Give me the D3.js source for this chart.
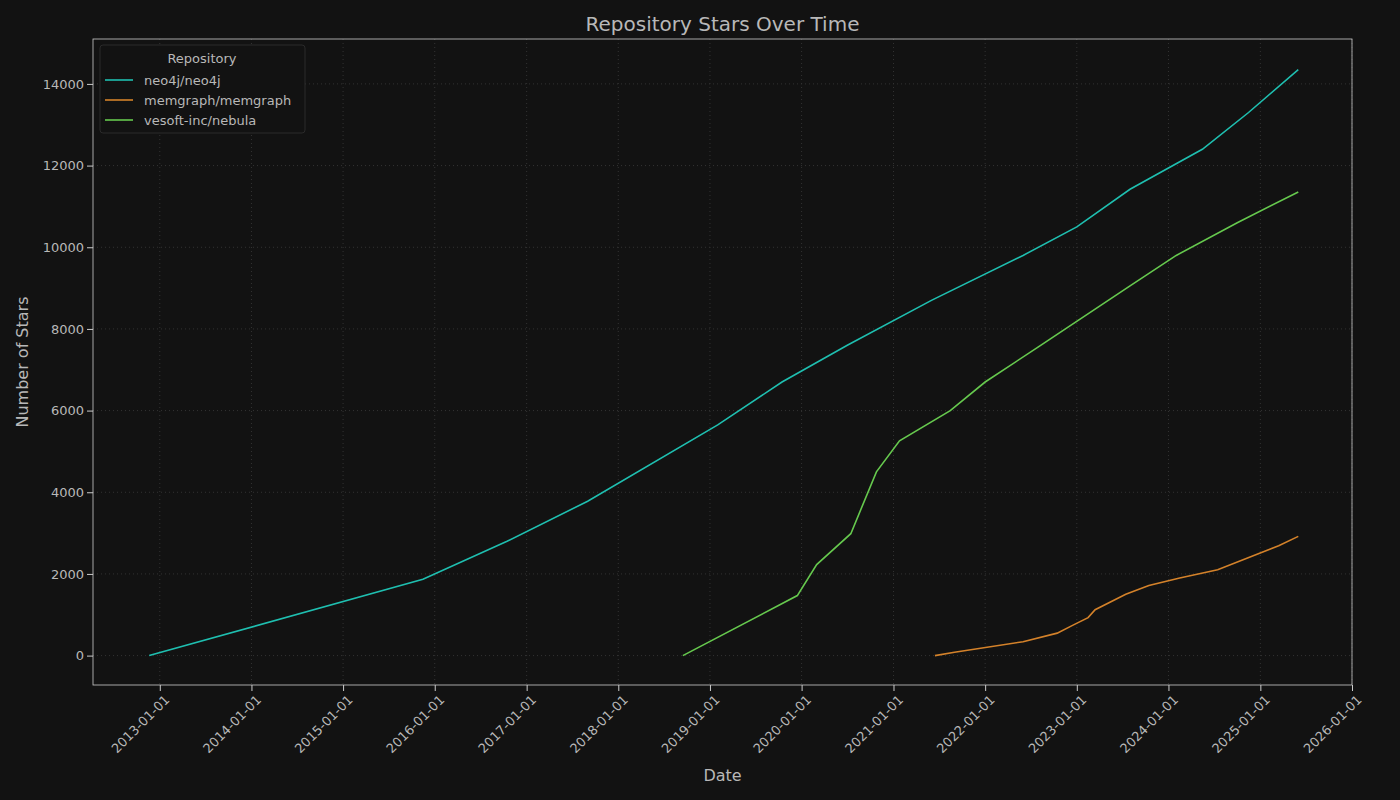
<!DOCTYPE html>
<html>
<head>
<meta charset="utf-8">
<script src="https://cdn.jsdelivr.net/npm/d3@7"></script>
<style>
  body { margin: 0; background: #121212; }
  text { font-family: "DejaVu Sans", sans-serif; }
</style>
</head>
<body>
<div id="chart"></div>
<script>
const neo4jDates = ['2012-11-20','2015-11-15','2016-10-15','2017-09-01','2019-02-01','2019-10-15','2020-07-01','2021-06-01','2022-06-01','2023-01-01','2023-08-01','2024-05-15','2024-11-15','2025-06-01'];
const neo4jStars = [0,1870,2800,3780,5650,6700,7600,8700,9800,10500,11420,12400,13300,14350];

const memgraphDates = ['2021-06-15','2021-09-01','2022-06-01','2022-10-15','2022-12-15','2023-02-15','2023-03-15','2023-07-15','2023-10-15','2024-02-15','2024-07-15','2025-03-15','2025-06-01'];
const memgraphStars = [0,80,340,550,740,930,1125,1500,1715,1900,2100,2690,2920];

const nebulaDates = ['2018-09-15','2019-12-15','2020-03-01','2020-07-15','2020-10-25','2021-01-25','2021-08-15','2022-01-01','2022-08-01','2023-08-01','2024-02-01','2024-10-01','2025-06-01'];
const nebulaStars = [0,1470,2230,2985,4500,5260,6000,6700,7560,9055,9800,10600,11355];

const repos = ['neo4j/neo4j', 'memgraph/memgraph', 'vesoft-inc/nebula'];
const colors = ['#1fbfb0', '#d4822a', '#66c94e'];
const yTicks = [0, 2000, 4000, 6000, 8000, 10000, 12000, 14000];

const parse = d3.timeParse('%Y-%m-%d');
const series = [
  neo4jDates.map((d, i) => ({ date: parse(d), stars: neo4jStars[i] })),
  memgraphDates.map((d, i) => ({ date: parse(d), stars: memgraphStars[i] })),
  nebulaDates.map((d, i) => ({ date: parse(d), stars: nebulaStars[i] }))
];

const width = 1400, height = 800;
const margin = { top: 39, right: 48, bottom: 115, left: 93 };
const textColor = '#b8b8b8';

const svg = d3.select('#chart').append('svg')
  .attr('width', width).attr('height', height)
  .style('background', '#121212');

const x = d3.scaleTime()
  .domain([parse('2012-04-10'), parse('2026-01-01')])
  .range([margin.left, width - margin.right]);
const y = d3.scaleLinear()
  .domain([-720, 15100])
  .range([height - margin.bottom, margin.top]);

const xTicks = d3.range(2013, 2027).map(yr => new Date(yr, 0, 1));

// grid
svg.append('g').selectAll('line').data(xTicks).enter().append('line')
  .attr('x1', d => x(d)).attr('x2', d => x(d))
  .attr('y1', margin.top).attr('y2', height - margin.bottom)
  .attr('stroke', '#333').attr('stroke-dasharray', '1,3');
svg.append('g').selectAll('line').data(yTicks).enter().append('line')
  .attr('x1', margin.left).attr('x2', width - margin.right)
  .attr('y1', d => y(d)).attr('y2', d => y(d))
  .attr('stroke', '#333').attr('stroke-dasharray', '1,3');

// frame
svg.append('rect')
  .attr('x', margin.left).attr('y', margin.top)
  .attr('width', width - margin.left - margin.right)
  .attr('height', height - margin.top - margin.bottom)
  .attr('fill', 'none').attr('stroke', '#ccc').attr('stroke-width', 0.8);

// axes
const xAxis = svg.append('g')
  .attr('transform', `translate(0,${height - margin.bottom})`)
  .call(d3.axisBottom(x).tickValues(xTicks).tickFormat(d3.timeFormat('%Y-%m-%d')).tickSizeOuter(0));
xAxis.selectAll('text')
  .attr('text-anchor', 'end')
  .attr('transform', 'rotate(-45)')
  .attr('dx', '-0.3em').attr('dy', '0.7em');

const yAxis = svg.append('g')
  .attr('transform', `translate(${margin.left},0)`)
  .call(d3.axisLeft(y).tickValues(yTicks).tickFormat(d3.format('d')).tickSizeOuter(0));

[xAxis, yAxis].forEach(a => {
  a.select('.domain').remove();
  a.selectAll('line').attr('stroke', '#ccc');
  a.selectAll('text').attr('fill', textColor).style('font-size', '13px');
});

// lines
const line = d3.line().x(d => x(d.date)).y(d => y(d.stars));
svg.append('g').selectAll('path').data(series).enter().append('path')
  .attr('d', line)
  .attr('fill', 'none')
  .attr('stroke', (d, i) => colors[i])
  .attr('stroke-width', 1.6);

// titles
svg.append('text').attr('x', (margin.left + width - margin.right) / 2).attr('y', 31)
  .attr('text-anchor', 'middle').attr('fill', textColor).style('font-size', '20px')
  .text('Repository Stars Over Time');
svg.append('text').attr('x', (margin.left + width - margin.right) / 2).attr('y', 781)
  .attr('text-anchor', 'middle').attr('fill', textColor).style('font-size', '16px')
  .text('Date');
svg.append('text').attr('transform', `translate(28,${(margin.top + height - margin.bottom) / 2}) rotate(-90)`)
  .attr('text-anchor', 'middle').attr('fill', textColor).style('font-size', '16px')
  .text('Number of Stars');

// legend
const lg = svg.append('g').attr('transform', 'translate(100,45)');
lg.append('rect').attr('width', 205).attr('height', 88).attr('rx', 3)
  .attr('fill', '#121212').attr('stroke', '#2a2a2a');
lg.append('text').attr('x', 102).attr('y', 18).attr('text-anchor', 'middle')
  .attr('fill', textColor).style('font-size', '13px').text('Repository');
repos.forEach((r, i) => {
  const yy = 35 + i * 20;
  lg.append('line').attr('x1', 5).attr('x2', 33).attr('y1', yy).attr('y2', yy)
    .attr('stroke', colors[i]).attr('stroke-width', 1.6);
  lg.append('text').attr('x', 44).attr('y', yy + 4.5)
    .attr('fill', textColor).style('font-size', '13px').text(r);
});
</script>
</body>
</html>
